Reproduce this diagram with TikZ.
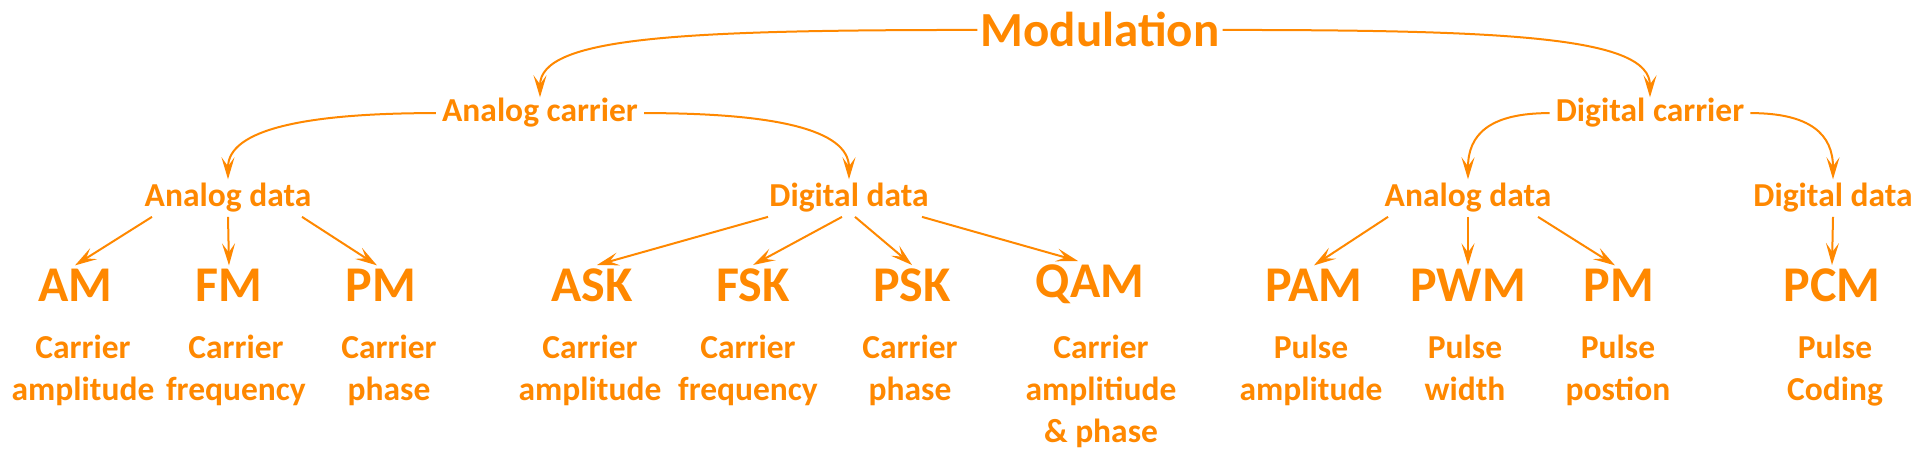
\documentclass[tikz,border=0pt]{standalone}
\usepackage{fontspec}
\setmainfont{Carlito}
\usetikzlibrary{arrows.meta}
\definecolor{org}{RGB}{255,136,0}
\begin{document}
\begin{tikzpicture}[x=1pt,y=-1pt,
  every node/.style={text=org},
  topnode/.style={font=\fontsize{49}{59}\selectfont\bfseries, inner xsep=3pt, inner ysep=2pt, anchor=base},
  lvone/.style={font=\fontsize{33.5}{40}\selectfont\bfseries, inner xsep=6pt, inner ysep=1pt, anchor=base},
  lvtwo/.style={font=\fontsize{33.5}{40}\selectfont\bfseries, inner sep=4pt, anchor=base},
  mlab/.style={font=\fontsize{50}{60}\selectfont\bfseries, inner sep=4pt, anchor=base},
  desc/.style={font=\fontsize{33.5}{42}\selectfont\bfseries, align=center, inner sep=0pt, anchor=base},
  arr/.style={draw=org, line width=2pt, -{Stealth[length=22pt,width=13pt,inset=9pt]}},
]
\useasboundingbox (0,0) rectangle (1920,462);

\node[topnode] (mod) at (1100,47) {Modulation};
\node[lvone] (ac) at (540,122) {Analog carrier};
\node[lvone] (dc) at (1650,122) {Digital carrier};

\node[lvtwo] (ad1) at (228,207) {Analog data};
\node[lvtwo] (dd1) at (849,207) {Digital data};
\node[lvtwo] (ad2) at (1468,207) {Analog data};
\node[lvtwo] (dd2) at (1833,207) {Digital data};

\node[mlab] (AM)  at (75,302) {AM};
\node[mlab] (FM)  at (229,302) {FM};
\node[mlab] (PM)  at (381,302) {PM};
\node[mlab] (ASK) at (592,302) {ASK};
\node[mlab] (FSK) at (753,302) {FSK};
\node[mlab] (PSK) at (912,302) {PSK};
\node[mlab] (QAM) at (1090,298) {QAM};
\node[mlab] (PAM) at (1314,302) {PAM};
\node[mlab] (PWM) at (1468,302) {PWM};
\node[mlab] (PMb) at (1619,302) {PM};
\node[mlab] (PCM) at (1832,302) {PCM};

% base anchor of a multi-line node is the baseline of its last line
\node[desc] (tAM)  at (83,400) {Carrier\\amplitude};
\node[desc] (tFM)  at (236,400) {Carrier\\frequency};
\node[desc] (tPM)  at (389,400) {Carrier\\phase};
\node[desc] (tASK) at (590,400) {Carrier\\amplitude};
\node[desc] (tFSK) at (748,400) {Carrier\\frequency};
\node[desc] (tPSK) at (910,400) {Carrier\\phase};
\node[desc] (tQAM) at (1101,442) {Carrier\\amplitiude\\\& phase};
\node[desc] (tPAM) at (1311,400) {Pulse\\amplitude};
\node[desc] (tPWM) at (1465,400) {Pulse\\width};
\node[desc] (tPMb) at (1618,400) {Pulse\\postion};
\node[desc] (tPCM) at (1835,400) {Pulse\\Coding};

\draw[arr] (mod.west) .. controls +(-300,0) and +(0,-60) .. (ac.north);
\draw[arr] (mod.east) .. controls +(290,0) and +(0,-60) .. (dc.north);
\draw[arr] (ac.west) .. controls +(-130,0) and +(0,-50) .. (ad1.north);
\draw[arr] (ac.east) .. controls +(130,0) and +(0,-50) .. (dd1.north);
\draw[arr] (dc.west) .. controls +(-60,0) and +(0,-45) .. (ad2.north);
\draw[arr] (dc.east) .. controls +(60,0) and +(0,-45) .. (dd2.north);

\draw[arr] ([xshift=-76pt]ad1.south) -- (AM.north);
\draw[arr] (ad1.south) -- (FM.north);
\draw[arr] ([xshift=74pt]ad1.south) -- ([xshift=-4pt]PM.north);

\draw[arr] ([xshift=-81pt]dd1.south) -- ([xshift=5pt]ASK.north);
\draw[arr] ([xshift=-7pt]dd1.south) -- (FSK.north);
\draw[arr] ([xshift=6pt]dd1.south) -- (PSK.north);
\draw[arr] ([xshift=73pt]dd1.south) -- ([xshift=-12pt]QAM.north);

\draw[arr] ([xshift=-80pt]ad2.south) -- (PAM.north);
\draw[arr] (ad2.south) -- (PWM.north);
\draw[arr] ([xshift=70pt]ad2.south) -- ([xshift=-4pt]PMb.north);

\draw[arr] (dd2.south) -- (PCM.north);
\end{tikzpicture}
\end{document}
